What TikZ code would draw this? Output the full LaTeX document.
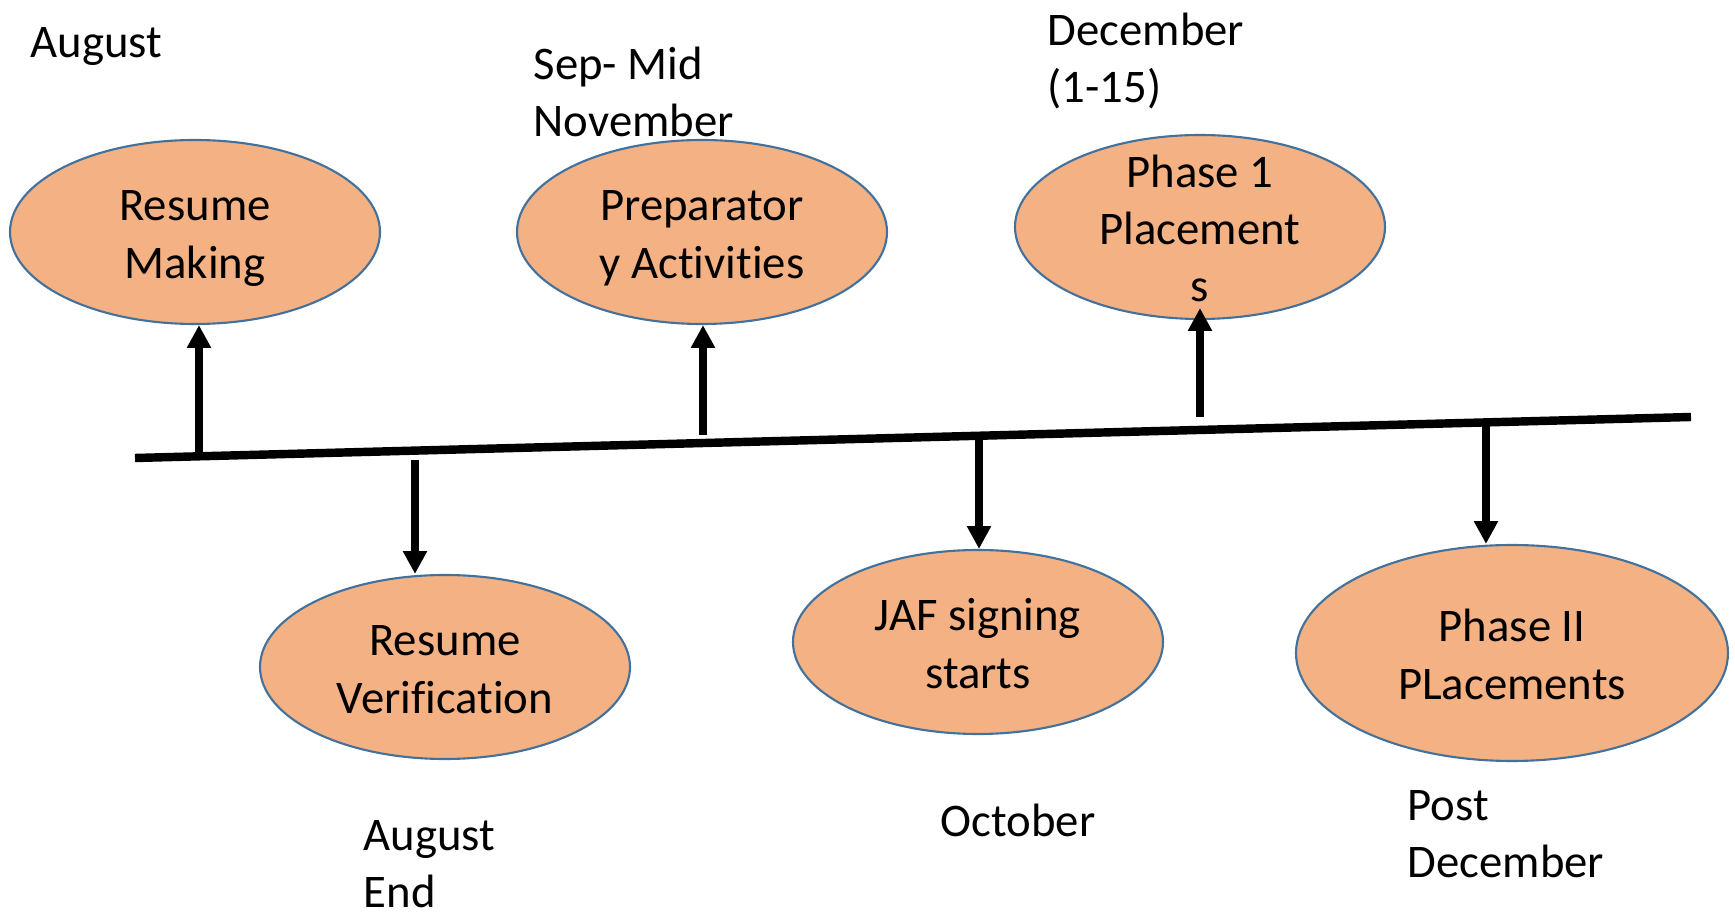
\documentclass[tikz,border=0pt]{standalone}
\usepackage{fontspec}
\setmainfont{Carlito}[Ligatures=CommonOff]
\usetikzlibrary{shapes.geometric, arrows.meta}

\definecolor{phasefill}{HTML}{F4B183}
\definecolor{phaseline}{HTML}{41719C}

\begin{document}
\begin{tikzpicture}[x=0.1mm, y=-0.1mm,
        every node/.style={font=\fontsize{13.3}{16.3}\selectfont, inner sep=0pt},
        phase/.style={ellipse, draw=phaseline, line width=0.6pt, fill=phasefill,
            minimum width=3.7cm, minimum height=1.84cm, align=center,
            inner xsep=0pt, inner ysep=-10pt, text height=26.2pt, text depth=0pt},
        month/.style={anchor=base west, align=left},
        timearrow/.style={-{Triangle[length=6.5pt, width=6.5pt]}, line width=2pt}]

        % --- 背景 ---
        \fill[white] (0,0) rectangle (1735,912);

        % --- タイムライン ---
        \coordinate (tlstart) at (135,458);
        \coordinate (tlend) at (1691,417);
        \draw[line width=2.4pt] (tlstart) -- (tlend);

        % --- 上の段 ---
        \node[phase] (making) at (195,232) {Resume\\Making};
        \node[phase] (prep) at (702,232) {Preparator\\y Activities};
        \node[phase, text height=42.6pt] (phaseone) at (1200,227) {Phase 1\\Placement\\s};

        % --- 下の段 ---
        \node[phase] (verif) at (445,667) {Resume\\Verification};
        \node[phase] (jaf) at (978,642) {JAF signing\\starts};
        \node[phase, minimum width=4.32cm, minimum height=2.16cm] (phasetwo) at (1512,653) {Phase II\\PLacements};

        % --- 月 (base = 最後の行) ---
        \node[month] (aug) at (30,58) {August};
        \node[month] (sepnov) at (533,137) {Sep- Mid\\November};
        \node[month] (dec) at (1047,103) {December\\(1-15)};
        \node[month] (augend) at (363,908) {August\\End};
        \node[month] (oct) at (940,837) {October};
        \node[month] (postdec) at (1407,878) {Post\\December};

        % --- 矢印 ---
        \coordinate (upone) at (199,456);
        \coordinate (uptwo) at (703,435);
        \coordinate (upthree) at (1200,417);
        \coordinate (downone) at (415,460);
        \coordinate (downtwo) at (979,437);
        \coordinate (downthree) at (1486,424);
        \foreach \from/\to in {upone/making, uptwo/prep} {
            \draw[timearrow] (\from) -- (\from |- \to.south);
        }
        \draw[timearrow] (upthree) -- ([yshift=1.2mm]phaseone.south);
        \foreach \from/\to in {downone/verif, downtwo/jaf, downthree/phasetwo} {
            \draw[timearrow] (\from) -- (\from |- \to.north);
        }

    \end{tikzpicture}
\end{document}
